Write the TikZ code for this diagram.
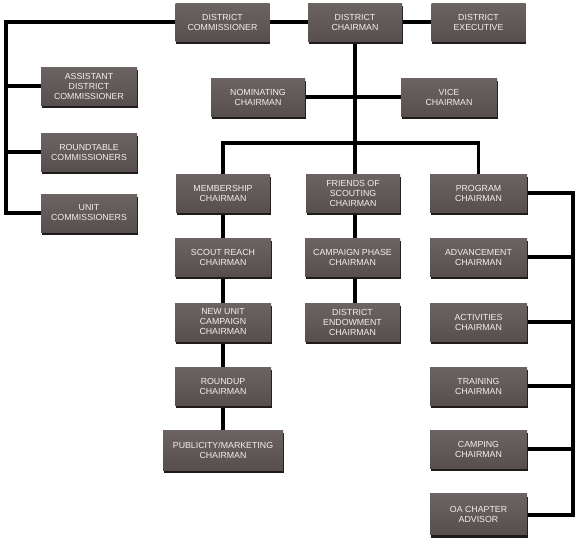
\documentclass[tikz,border=0pt]{standalone}
\usepackage{fontspec}
\setmainfont{Liberation Sans}
\usetikzlibrary{shadows,backgrounds}
\definecolor{boxtop}{HTML}{6C6462}
\definecolor{boxbottom}{HTML}{574F4D}
\definecolor{boxshadow}{HTML}{1E1B1A}
\definecolor{boxtext}{HTML}{F0F0F0}
\begin{document}
\begin{tikzpicture}[x=1pt,y=-1pt,
  orgbox/.style={top color=boxtop, bottom color=boxbottom, text=boxtext,
    font=\fontsize{8.8}{10}\selectfont,
    align=center, minimum width=94pt, minimum height=38pt, inner sep=1pt,
    drop shadow={shadow xshift=0.8pt, shadow yshift=-3pt, fill=boxshadow, opacity=1}},
  link/.style={line width=3.5pt, black, line join=miter}]
\useasboundingbox (0,0) rectangle (577,538);
% top row
\node[orgbox] (dc)  at (222.5,22) {DISTRICT\\COMMISSIONER};
\node[orgbox] (dch) at (355,22)   {DISTRICT\\CHAIRMAN};
\node[orgbox] (dex) at (478.5,22) {DISTRICT\\EXECUTIVE};
% left column
\node[orgbox,minimum width=96pt] (adc) at (89,86)  {ASSISTANT\\DISTRICT\\COMMISSIONER};
\node[orgbox,minimum width=96pt] (rt)  at (89,152) {ROUNDTABLE\\COMMISSIONERS};
\node[orgbox,minimum width=96pt] (uc)  at (89,213) {UNIT\\COMMISSIONERS};
% second row
\node[orgbox] (nom)  at (258,97) {NOMINATING\\CHAIRMAN};
\node[orgbox,minimum width=96pt] (vice) at (449,97) {VICE\\CHAIRMAN};
% column 1
\node[orgbox] (mem) at (223,193) {MEMBERSHIP\\CHAIRMAN};
\node[orgbox,minimum width=96pt] (sr)  at (223,257) {SCOUT REACH\\CHAIRMAN};
\node[orgbox,minimum width=96pt] (nu)  at (223,322) {NEW UNIT\\CAMPAIGN\\CHAIRMAN};
\node[orgbox,minimum width=96pt] (ru)  at (223,386) {ROUNDUP\\CHAIRMAN};
\node[orgbox,minimum width=120pt,minimum height=40pt] (pm) at (223,450) {PUBLICITY/MARKETING\\CHAIRMAN};
% column 2
\node[orgbox] (fos) at (353,193) {FRIENDS OF\\SCOUTING\\CHAIRMAN};
\node[orgbox,minimum width=95pt] (cp)  at (352.5,257) {CAMPAIGN PHASE\\CHAIRMAN};
\node[orgbox,minimum width=95pt] (de)  at (352.5,322) {DISTRICT\\ENDOWMENT\\CHAIRMAN};
% column 3
\node[orgbox,minimum width=97pt] (prog) at (478.5,193) {PROGRAM\\CHAIRMAN};
\node[orgbox,minimum width=97pt] (adv)  at (478.5,257) {ADVANCEMENT\\CHAIRMAN};
\node[orgbox,minimum width=97pt] (act)  at (478.5,322) {ACTIVITIES\\CHAIRMAN};
\node[orgbox,minimum width=97pt] (trn)  at (478.5,386) {TRAINING\\CHAIRMAN};
\node[orgbox,minimum width=97pt] (cmp)  at (478.5,449) {CAMPING\\CHAIRMAN};
\node[orgbox,minimum width=97pt,minimum height=41pt] (oa) at (478.5,514) {OA CHAPTER\\ADVISOR};
% bus coordinates
\coordinate (lb) at (6,213);
\coordinate (rb) at (573,515);
\coordinate (hbar) at (355,143);
\coordinate (vx) at (355,0);
\begin{scope}[on background layer]
  \draw[link] (dc.west) -| (lb) -- (uc.west);
  \draw[link] (adc.west) -- (adc.west -| lb);
  \draw[link] (rt.west) -- (rt.west -| lb);
  \draw[link] (dc.east) -- (dch.west);
  \draw[link] (dch.east) -- (dex.west);
  \draw[link] (dch.south) -- (dch.south |- fos.north);
  \draw[link] (nom.east) -- (vice.west);
  \draw[link] (mem.north) -- (mem.north |- hbar) -| (prog.north);
  \draw[link] (mem.south) -- (sr.north);
  \draw[link] (sr.south) -- (nu.north);
  \draw[link] (nu.south) -- (ru.north);
  \draw[link] (ru.south) -- (pm.north);
  \draw[link] (vx |- fos.south) -- (vx |- cp.north);
  \draw[link] (vx |- cp.south) -- (vx |- de.north);
  \draw[link] (prog.east) -| (rb) -- (rb -| oa.east);
  \draw[link] (adv.east) -- (adv.east -| rb);
  \draw[link] (act.east) -- (act.east -| rb);
  \draw[link] (trn.east) -- (trn.east -| rb);
  \draw[link] (cmp.east) -- (cmp.east -| rb);
\end{scope}
\end{tikzpicture}
\end{document}
